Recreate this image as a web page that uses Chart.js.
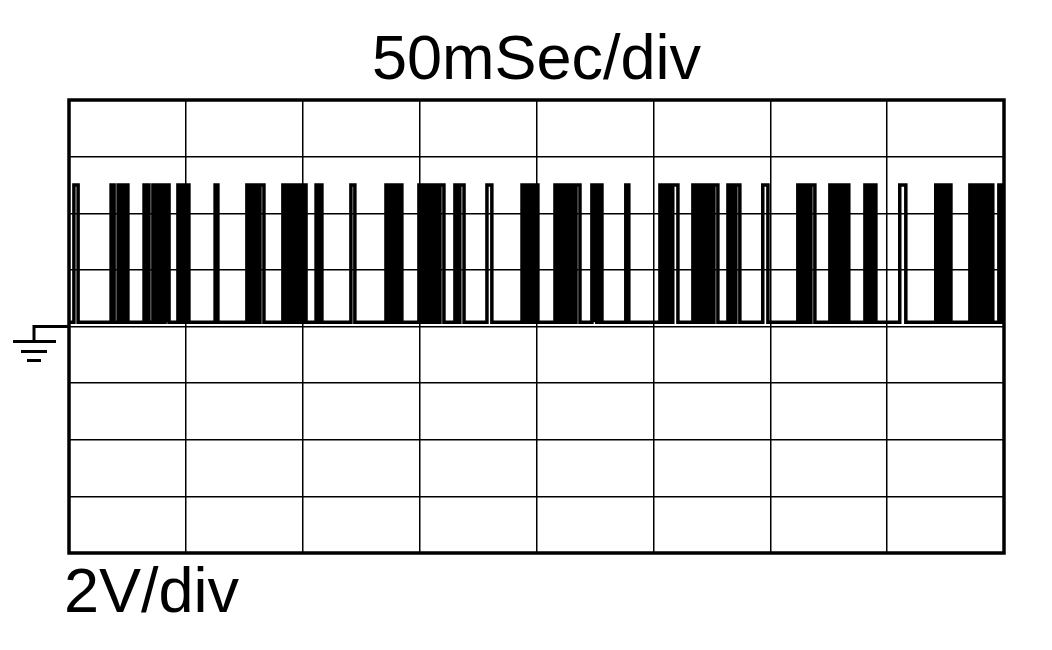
<!DOCTYPE html>
<html>
<head>
<meta charset="utf-8">
<script src="https://cdn.jsdelivr.net/npm/chart.js@4/dist/chart.umd.min.js"></script>
<style>
  html, body { margin: 0; padding: 0; background: #fff; }
  #wrap { width: 1052px; height: 650px; position: relative; }
</style>
</head>
<body>
<div id="wrap"><canvas id="scope"></canvas></div>
<script>
// scope capture: 50 ms/div across 8 divs, 2 V/div vertically, ground at centre line
const TIME_LABEL = "50mSec/div";
const VOLT_LABEL = "2V/div";
const TIME_TICKS = [0, 50, 100, 150, 200, 250, 300, 350, 400];   // ms
const VOLT_TICKS = [-8, -6, -4, -2, 0, 2, 4, 6, 8];             // V

const LOW_V = 0.15;   // trace sits a hair above ground
const HIGH_V = 5.0;

// pulse edges, ms
const riseMs = [
  2.1, 18.0, 21.0, 23.1, 24.4, 32.1, 33.4, 35.9, 37.6, 38.9, 41.1, 41.9, 46.6, 48.8, 50.5,
  62.5, 76.1, 78.3, 80.0, 81.7, 91.5, 93.2, 94.5, 96.7, 98.4, 100.1, 105.7, 107.4, 120.6,
  135.6, 137.7, 139.9, 141.6, 149.7, 151.4, 153.1, 155.3, 157.0, 158.7, 165.1, 167.2, 178.8,
  193.8, 195.9, 197.6, 199.3, 207.9, 209.6, 211.3, 213.4, 215.1, 216.9, 223.7, 225.0, 226.7,
  238.2, 252.8, 254.5, 256.2, 258.3, 266.9, 268.6, 270.3, 272.5, 274.2, 275.9, 281.9, 283.6,
  285.3, 296.8, 311.8, 313.5, 315.2, 317.4, 325.5, 327.6, 329.3, 331.1, 332.8, 340.5, 342.2,
  343.9, 355.4, 370.8, 372.5, 374.3, 376.0, 385.4, 387.1, 388.8, 390.5, 392.2, 393.9, 397.8
];
const fallMs = [
  3.9, 19.3, 22.2, 24.0, 25.2, 32.9, 34.2, 36.8, 38.5, 40.2, 41.5, 42.8, 47.9, 50.0, 51.3,
  63.7, 77.4, 79.1, 80.8, 83.4, 92.4, 94.1, 95.8, 97.5, 99.2, 101.4, 106.5, 108.2, 122.3,
  136.9, 138.6, 140.7, 142.4, 150.6, 152.3, 154.4, 156.1, 157.8, 160.4, 166.0, 169.0, 180.9,
  195.0, 196.8, 198.5, 200.6, 208.7, 210.4, 212.6, 214.3, 216.0, 218.6, 224.6, 225.8, 228.0,
  239.5, 253.6, 255.4, 257.5, 260.5, 267.8, 269.5, 271.6, 273.3, 275.0, 277.6, 282.7, 284.4,
  287.0, 299.0, 312.7, 314.4, 316.5, 319.1, 326.8, 328.5, 330.2, 331.9, 333.6, 341.3, 343.0,
  345.2, 358.0, 371.7, 373.4, 375.1, 377.3, 386.2, 387.9, 389.7, 391.4, 393.1, 395.2, 399.1
];

// square wave out of the edge lists
const trace = [{ x: 0, y: LOW_V }];
for (let i = 0; i < riseMs.length; i++) {
  trace.push({ x: riseMs[i], y: LOW_V }, { x: riseMs[i], y: HIGH_V },
             { x: fallMs[i], y: HIGH_V }, { x: fallMs[i], y: LOW_V });
}
trace.push({ x: 400, y: LOW_V });

const FONT = "Liberation Sans, Arial, Helvetica, sans-serif";

// labels + ground marker, drawn off the scales
const scopeDecor = {
  id: "scopeDecor",
  afterDraw(chart) {
    const g = chart.ctx, a = chart.chartArea;
    const gy = chart.scales.y.getPixelForValue(0);
    g.save();
    g.fillStyle = "#000";
    g.font = `63px ${FONT}`;
    g.textAlign = "center";
    g.textBaseline = "alphabetic";
    g.fillText(TIME_LABEL, (a.left + a.right) / 2, 79);
    g.textAlign = "left";
    g.fillText(VOLT_LABEL, a.left - 5, 612);
    // ground symbol
    g.strokeStyle = "#000";
    g.lineWidth = 3;
    g.beginPath();
    g.moveTo(a.left, gy); g.lineTo(34, gy); g.lineTo(34, gy + 15);
    g.moveTo(13, gy + 15); g.lineTo(56, gy + 15);
    g.moveTo(21, gy + 25); g.lineTo(47, gy + 25);
    g.moveTo(27, gy + 34); g.lineTo(41, gy + 34);
    g.stroke();
    // frame
    g.lineWidth = 3.5;
    g.strokeRect(a.left, a.top, a.right - a.left, a.bottom - a.top);
    g.restore();
  },
};

new Chart(document.getElementById("scope"), {
  type: "line",
  data: {
    datasets: [{
      data: trace,
      borderColor: "#000",
      borderWidth: 3.5,
      pointRadius: 0,
      tension: 0,
      fill: false,
    }],
  },
  options: {
    responsive: true,
    maintainAspectRatio: false,
    animation: false,
    events: [],
    layout: { padding: { left: 69, right: 48, top: 100, bottom: 97 } },
    plugins: { legend: { display: false }, tooltip: { enabled: false }, title: { display: false } },
    scales: {
      x: {
        type: "linear", min: 0, max: 400,
        afterBuildTicks: (s) => { s.ticks = TIME_TICKS.map((v) => ({ value: v })); },
        ticks: { display: false },
        grid: { color: "#000", lineWidth: 1.5, drawTicks: false },
        border: { display: false },
      },
      y: {
        type: "linear", min: -8, max: 8,
        afterBuildTicks: (s) => { s.ticks = VOLT_TICKS.map((v) => ({ value: v })); },
        ticks: { display: false },
        grid: { color: "#000", lineWidth: 1.5, drawTicks: false },
        border: { display: false },
      },
    },
  },
  plugins: [scopeDecor],
});
</script>
</body>
</html>
